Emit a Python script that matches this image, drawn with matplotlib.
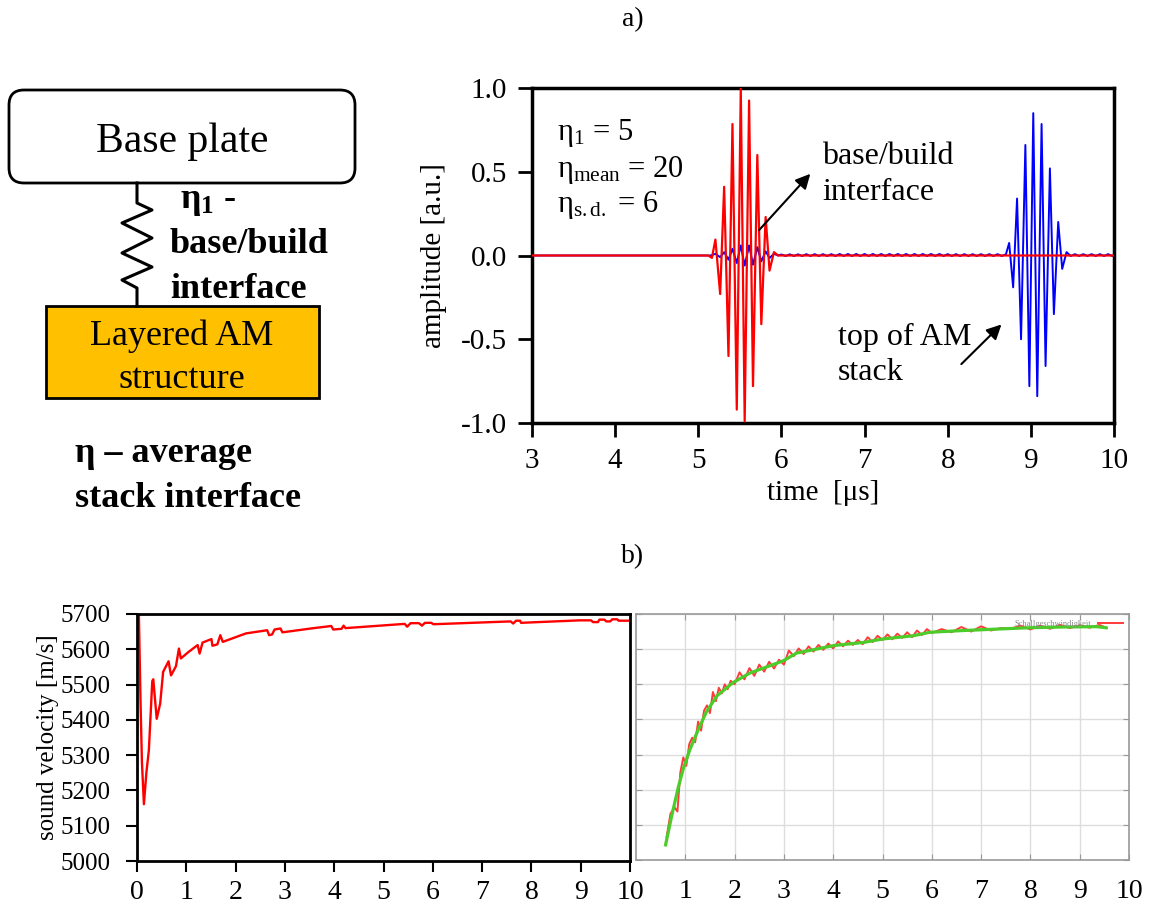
import matplotlib
matplotlib.use("Agg")
import matplotlib.pyplot as plt
from matplotlib.patches import FancyBboxPatch, Rectangle

plt.rcParams['font.family'] = ['Liberation Serif', 'DejaVu Serif']
plt.rcParams['mathtext.fontset'] = 'custom'
plt.rcParams['mathtext.rm'] = 'Liberation Serif'
plt.rcParams['mathtext.it'] = 'Liberation Serif:italic'
plt.rcParams['mathtext.bf'] = 'Liberation Serif:bold'
plt.rcParams['mathtext.default'] = 'rm'
plt.rcParams['axes.unicode_minus'] = False

# ---- a) simulated A-scans (time in us, amplitude in a.u.)
red_t = [3.0, 5.12, 5.164, 5.206, 5.263, 5.311, 5.363, 5.411, 5.463, 5.511,
         5.558, 5.611, 5.658, 5.710, 5.758, 5.810, 5.857, 5.910, 5.96, 10.0]
red_a = [0.0, 0.0, -0.014, 0.095, -0.23, 0.41, -0.60, 0.785, -0.92, 1.0,
         -0.99, 0.925, -0.78, 0.60, -0.41, 0.23, -0.09, 0.02, 0.0, 0.0]

blue_t = [3.0, 5.15, 5.206, 5.263, 5.311, 5.363, 5.411, 5.463, 5.511, 5.558,
          5.611, 5.658, 5.710, 5.758, 5.810, 5.857, 5.910, 5.96]
blue_a = [0.0, 0.0, 0.01, -0.01, 0.02, -0.025, 0.04, -0.045, 0.06, -0.06,
          0.06, -0.055, 0.05, -0.035, 0.025, -0.015, 0.01, 0.0]

ripple_t = [6.00, 6.05, 6.10, 6.15, 6.20, 6.25, 6.30, 6.35, 6.40, 6.45,
            6.50, 6.55, 6.60, 6.65, 6.70, 6.75, 6.80, 6.85, 6.90, 6.95,
            7.00, 7.05, 7.10, 7.15, 7.20, 7.25, 7.30, 7.35, 7.40, 7.45,
            7.50, 7.55, 7.60, 7.65, 7.70, 7.75, 7.80, 7.85, 7.90, 7.95,
            8.00, 8.05, 8.10, 8.15, 8.20, 8.25, 8.30, 8.35, 8.40, 8.45,
            8.50, 8.55, 8.60, 8.65, 8.70]
ripple_a = [0.006, -0.003, 0.007, -0.003, 0.007, -0.003, 0.008, -0.003, 0.008, -0.003,
            0.008, -0.003, 0.008, -0.003, 0.009, -0.003, 0.009, -0.003, 0.009, -0.003,
            0.009, -0.003, 0.009, -0.003, 0.009, -0.003, 0.009, -0.003, 0.009, -0.003,
            0.009, -0.003, 0.009, -0.003, 0.009, -0.003, 0.009, -0.003, 0.009, -0.003,
            0.008, -0.003, 0.008, -0.003, 0.008, -0.003, 0.008, -0.003, 0.008, -0.003,
            0.008, -0.003, 0.008, -0.003, 0.007]

echo_t = [8.739, 8.787, 8.834, 8.882, 8.934, 8.982, 9.029, 9.077, 9.129, 9.177,
          9.229, 9.277, 9.329, 9.377, 9.429, 9.48, 9.53, 9.58, 9.63, 9.68,
          9.73, 9.78, 9.83, 9.88, 9.93, 9.98, 10.0]
echo_a = [0.075, -0.19, 0.34, -0.50, 0.66, -0.78, 0.85, -0.84, 0.785, -0.66,
          0.52, -0.35, 0.20, -0.08, 0.02, -0.003, 0.008, -0.003, 0.008, -0.003,
          0.008, -0.003, 0.008, -0.003, 0.008, -0.003, 0.004]

# ---- b) sound velocity along build height
sim_x = [0.03, 0.07, 0.10, 0.14, 0.19, 0.24, 0.31, 0.33, 0.40, 0.47, 0.53,
         0.64, 0.69, 0.79, 0.85, 0.89, 1.05, 1.23, 1.27, 1.33, 1.51, 1.53,
         1.63, 1.69, 1.74, 2.21, 2.64, 2.68, 2.74, 2.79, 2.91, 2.95, 3.53,
         3.94, 3.98, 4.15, 4.19, 4.23, 5.43, 5.48, 5.55, 5.72, 5.78, 5.84,
         5.97, 6.01, 7.58, 7.63, 7.69, 7.77, 7.79, 8.98, 9.21, 9.25, 9.35,
         9.38, 9.48, 9.52, 9.60, 9.64, 9.74, 9.77, 10.0]
sim_v = [5760, 5460, 5280, 5161, 5250, 5313, 5510, 5515, 5403, 5446, 5536,
         5566, 5526, 5552, 5602, 5574, 5593, 5612, 5588, 5619, 5629, 5610,
         5614, 5640, 5621, 5645, 5654, 5640, 5642, 5656, 5659, 5648, 5659,
         5666, 5656, 5658, 5667, 5660, 5672, 5664, 5674, 5674, 5667, 5675,
         5675, 5671, 5679, 5673, 5681, 5681, 5675, 5682, 5682, 5677, 5677,
         5684, 5684, 5679, 5679, 5685, 5685, 5681, 5681]

fit_x = [0.60, 0.72, 0.86, 0.96, 1.09, 1.26, 1.43, 1.64, 1.97, 2.31, 2.72,
         2.99, 3.26, 3.66, 4.00, 4.61, 5.01, 5.62, 5.96, 6.64, 7.31, 7.99,
         8.66, 9.34, 9.53]
fit_v = [5043, 5123, 5208, 5260, 5313, 5370, 5422, 5467, 5505, 5532, 5553,
         5567, 5589, 5600, 5610, 5619, 5629, 5638, 5648, 5653, 5657, 5661,
         5663, 5664, 5661]

meas_x = [0.62, 0.70, 0.78, 0.84, 0.90, 0.96, 1.02, 1.08, 1.14, 1.20, 1.26,
          1.32, 1.38, 1.44, 1.50, 1.56, 1.62, 1.68, 1.74, 1.80, 1.86, 1.92,
          2.00, 2.10, 2.20, 2.30, 2.40, 2.50, 2.60, 2.70, 2.80, 2.90, 3.00,
          3.10, 3.20, 3.30, 3.40, 3.50, 3.60, 3.70, 3.80, 3.90, 4.00, 4.10,
          4.20, 4.30, 4.40, 4.50, 4.60, 4.70, 4.80, 4.90, 5.00, 5.10, 5.20,
          5.30, 5.40, 5.50, 5.60, 5.70, 5.80, 5.90, 6.00, 6.20, 6.40, 6.60,
          6.80, 7.00, 7.20, 7.40, 7.60, 7.80, 8.00, 8.20, 8.40, 8.60, 8.80,
          9.00, 9.20, 9.40, 9.55]
meas_v = [5065, 5132, 5150, 5138, 5250, 5292, 5268, 5330, 5348, 5335, 5394,
          5368, 5425, 5440, 5418, 5478, 5452, 5490, 5474, 5500, 5486, 5510,
          5500, 5534, 5514, 5546, 5524, 5556, 5536, 5564, 5545, 5570, 5556,
          5596, 5580, 5602, 5586, 5608, 5593, 5612, 5598, 5616, 5602, 5622,
          5608, 5624, 5612, 5626, 5614, 5634, 5620, 5638, 5626, 5642, 5628,
          5644, 5632, 5648, 5634, 5653, 5640, 5657, 5646, 5657, 5648, 5663,
          5650, 5665, 5653, 5660, 5658, 5667, 5656, 5667, 5658, 5669, 5660,
          5668, 5661, 5669, 5660]

W, H = 1149, 907
fig = plt.figure(figsize=(W / 100, H / 100), dpi=100)

# ---- sketch of the sample (pixel coordinates)
sk = fig.add_axes([0, 0, 1, 1])
sk.set_xlim(0, W)
sk.set_ylim(H, 0)
sk.axis('off')
sk.add_patch(FancyBboxPatch((9, 90), 346, 93, boxstyle='round,pad=0,rounding_size=15',
                            fc='white', ec='black', lw=2))
sk.add_patch(Rectangle((46, 306), 273, 92, fc='#ffc000', ec='black', lw=2))
sk.plot([137, 137, 152, 122, 152, 122, 152, 122, 137, 137],
        [183, 203, 210, 223, 238, 253, 267, 280, 288, 306], color='black', lw=2.2)
sk.text(182, 152, 'Base plate', fontsize=30, ha='center', va='baseline')
sk.text(182, 345, 'Layered AM', fontsize=26, ha='center', va='baseline')
sk.text(182, 388, 'structure', fontsize=26, ha='center', va='baseline')
sk.text(180, 208, r'$\mathbf{\eta_1}$ -', fontsize=26, fontweight='bold', va='baseline')
sk.text(170, 253, 'base/build', fontsize=26, fontweight='bold', va='baseline')
sk.text(170, 298, 'interface', fontsize=26, fontweight='bold', va='baseline')
sk.text(75, 462, 'η – average', fontsize=26, fontweight='bold', va='baseline')
sk.text(75, 507, 'stack interface', fontsize=26, fontweight='bold', va='baseline')

fig.text(633 / W, 1 - 20 / H, 'a)', fontsize=20, ha='center', va='center')
fig.text(633 / W, 1 - 557 / H, 'b)', fontsize=20, ha='center', va='center')

# ---- a) A-scan
ax = fig.add_axes([532 / W, 1 - 423 / H, 582 / W, 335 / H])
ax.plot(blue_t + ripple_t + echo_t, blue_a + ripple_a + echo_a, color='#0000ff', lw=1.4, zorder=2)
ax.plot(red_t, red_a, color='#ff0000', lw=1.6, zorder=3)
ax.set_xlim(3, 10)
ax.set_ylim(-1, 1)
ax.set_xticks(range(3, 11))
ax.set_yticks([-1, -0.5, 0, 0.5, 1])
ax.set_yticklabels(['-1.0', '-0.5', '0.0', '0.5', '1.0'])
ax.tick_params(direction='out', length=10, width=2, labelsize=21, pad=8)
for s in ax.spines.values():
    s.set_linewidth(2.5)
ax.set_xlabel('time  [μs]', fontsize=21, labelpad=4)
ax.set_ylabel('amplitude [a.u.]', fontsize=21, labelpad=10)
ax.text(3.30, 0.73, r'$\eta_{1}$ = 5', fontsize=22, va='center')
ax.text(3.30, 0.51, r'$\eta_{mean}$ = 20', fontsize=22, va='center')
ax.text(3.30, 0.30, r'$\eta_{s.d.}$ = 6', fontsize=22, va='center')
ax.annotate('', xy=(6.37, 0.50), xytext=(5.71, 0.14),
            arrowprops=dict(arrowstyle='-|>', color='black', lw=1.5, mutation_scale=22))
ax.text(6.49, 0.59, 'base/build', fontsize=23, va='center')
ax.text(6.49, 0.375, 'interface', fontsize=23, va='center')
ax.annotate('', xy=(8.67, -0.40), xytext=(8.14, -0.66),
            arrowprops=dict(arrowstyle='-|>', color='black', lw=1.5, mutation_scale=22))
ax.text(6.68, -0.49, 'top of AM', fontsize=23, va='center')
ax.text(6.68, -0.70, 'stack', fontsize=23, va='center')

# ---- b) left: simulated sound velocity
bl = fig.add_axes([137 / W, 1 - 861 / H, 493 / W, 247 / H])
bl.plot(sim_x, sim_v, color='#ff0000', lw=1.7)
bl.set_xlim(0, 10)
bl.set_ylim(5000, 5700)
bl.set_xticks(range(0, 11))
bl.set_yticks(range(5000, 5701, 100))
bl.tick_params(axis='y', direction='out', length=8, width=1.5, labelsize=18, pad=11)
bl.tick_params(axis='x', direction='out', length=8, width=1.5, labelsize=20, pad=6)
for s in bl.spines.values():
    s.set_linewidth(2)
bl.set_ylabel('sound velocity [m/s]', fontsize=18, labelpad=1)

# ---- b) right: measured sound velocity (gnuplot-style)
br = fig.add_axes([636 / W, 1 - 860 / H, 493 / W, 246 / H])
br.plot(meas_x, meas_v, color='#ff3a3a', lw=1.4, label='Schallgeschwindigkeit')
br.plot(fit_x, fit_v, color='#4ccc2a', lw=2.3)
br.set_xlim(0, 10)
br.set_ylim(5000, 5700)
br.set_xticks(range(1, 11))
br.set_yticks(range(5000, 5701, 100))
br.set_yticklabels([])
br.grid(True, color='#dddddd', lw=1)
br.tick_params(axis='both', direction='in', length=4, color='#999999', top=True, right=True)
br.tick_params(axis='x', labelsize=20, pad=14)
for s in br.spines.values():
    s.set_color('#9a9a9a')
    s.set_linewidth(1.2)
br.legend(loc='upper right', frameon=False, fontsize=6, markerfirst=False,
          labelcolor='#888888', handlelength=3, borderaxespad=0.3)

fig.savefig('out.png', dpi=100)
